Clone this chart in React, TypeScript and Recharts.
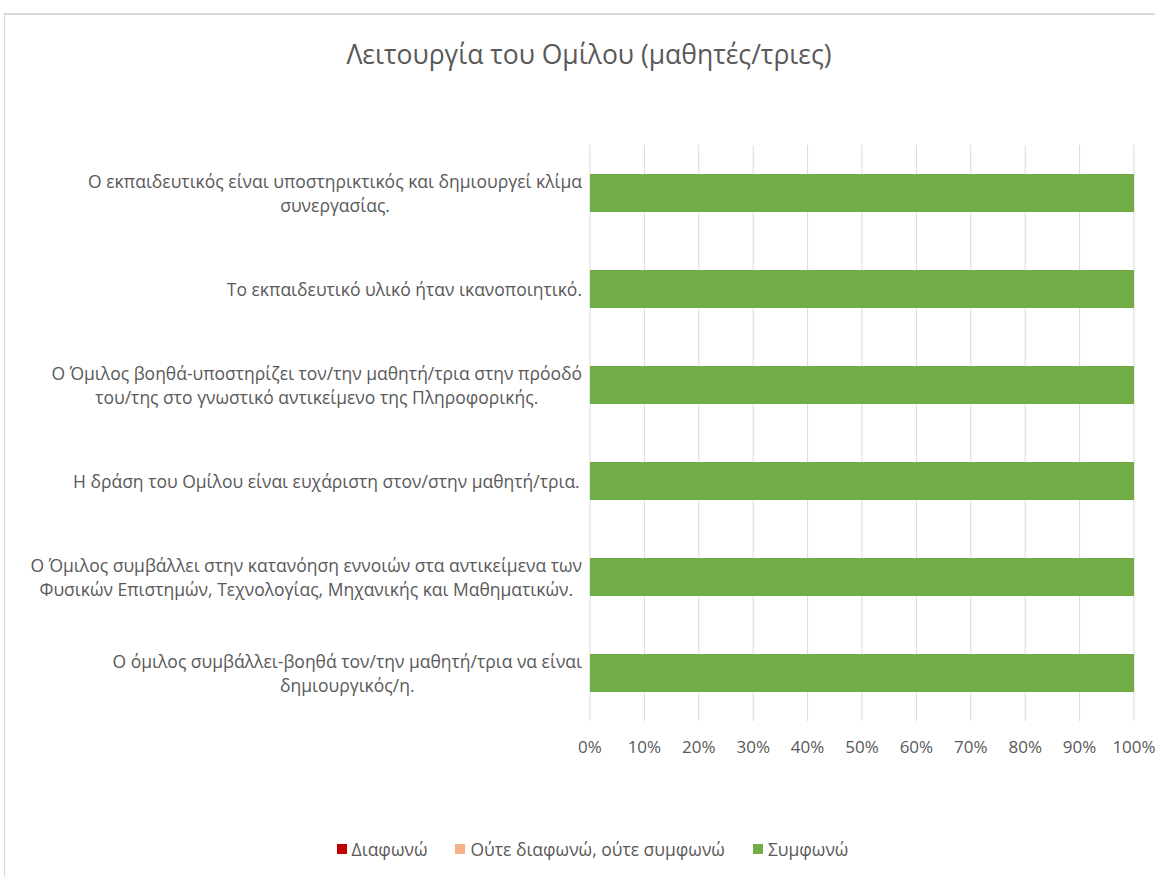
import { BarChart, Bar, XAxis, YAxis, CartesianGrid, Legend } from 'recharts'

const categories = [
  'Ο εκπαιδευτικός είναι υποστηρικτικός και δημιουργεί κλίμα\nσυνεργασίας.',
  'Το εκπαιδευτικό υλικό ήταν ικανοποιητικό.',
  'Ο Όμιλος βοηθά-υποστηρίζει τον/την μαθητή/τρια στην πρόοδό\nτου/της στο γνωστικό αντικείμενο της Πληροφορικής.',
  'Η δράση του  Ομίλου είναι ευχάριστη στον/στην μαθητή/τρια.',
  'Ο Όμιλος συμβάλλει στην κατανόηση εννοιών στα αντικείμενα των\nΦυσικών Επιστημών, Τεχνολογίας, Μηχανικής και Μαθηματικών.',
  'Ο όμιλος συμβάλλει-βοηθά τον/την μαθητή/τρια να είναι\nδημιουργικός/η.',
]
const disagree = [0, 0, 0, 0, 0, 0]
const neutral = [0, 0, 0, 0, 0, 0]
const agree = [100, 100, 100, 100, 100, 100]
const xTicks = [0, 10, 20, 30, 40, 50, 60, 70, 80, 90, 100]

const series = [
  { key: 'disagree', name: 'Διαφωνώ', color: '#C00000' },
  { key: 'neutral', name: 'Ούτε διαφωνώ, ούτε συμφωνώ', color: '#F4B183' },
  { key: 'agree', name: 'Συμφωνώ', color: '#70AD47' },
]

const FONT = '"Open Sans", "Noto Sans", sans-serif'
const TEXT = '#595959'
const LABEL_SIZE = 17.5

const chartData = categories.map((label, i) => ({
  label,
  disagree: disagree[i],
  neutral: neutral[i],
  agree: agree[i],
}))

let measureCtx: CanvasRenderingContext2D | null = null
function textWidth(s: string, size: number) {
  if (!measureCtx) measureCtx = document.createElement('canvas').getContext('2d')
  if (!measureCtx) return s.length * size * 0.5
  measureCtx.font = `${size}px ${FONT}`
  return measureCtx.measureText(s).width
}

// multi-line labels: lines centred on each other, block right-aligned
function CategoryTick({ x, y, payload }: any) {
  const lines = String(payload.value).split('\n')
  const lineH = 24
  const block = Math.max(...lines.map(l => textWidth(l, LABEL_SIZE)))
  const y0 = y - ((lines.length - 1) * lineH) / 2
  return (
    <g>
      {lines.map((l, i) => (
        <text
          key={i}
          x={x - block / 2}
          y={y0 + i * lineH}
          textAnchor="middle"
          dominantBaseline="central"
          fontSize={LABEL_SIZE}
          fontFamily={FONT}
          fill={TEXT}
        >
          {l}
        </text>
      ))}
    </g>
  )
}

function LegendContent() {
  return (
    <div style={{ display: 'flex', justifyContent: 'center', gap: 28, fontFamily: FONT, fontSize: LABEL_SIZE, color: TEXT }}>
      {series.map(s => (
        <div key={s.key} style={{ display: 'flex', alignItems: 'center', gap: 5 }}>
          <span style={{ width: 10, height: 10, background: s.color, display: 'inline-block' }} />
          <span>{s.name}</span>
        </div>
      ))}
    </div>
  )
}

export default function App() {
  return (
    <div style={{ position: 'relative', width: 1155, height: 877, overflow: 'hidden', background: '#fff' }}>
      <style>{'body{margin:0;overflow:hidden;background:#fff}'}</style>
      <div
        style={{
          position: 'absolute',
          left: 4,
          top: 13,
          width: 1200,
          height: 900,
          borderLeft: '1px solid #d9d9d9',
          borderTop: '2px solid #d9d9d9',
        }}
      />
      <div
        style={{
          position: 'absolute',
          top: 36,
          left: 0,
          width: 1178,
          textAlign: 'center',
          fontFamily: FONT,
          fontSize: 26.5,
          color: TEXT,
        }}
      >
        Λειτουργία του Ομίλου (μαθητές/τριες)
      </div>
      <div style={{ position: 'absolute', left: 0, top: 0 }}>
        <BarChart
          width={1155}
          height={877}
          data={chartData}
          layout="vertical"
          margin={{ top: 145, right: 21, left: 0, bottom: 86 }}
        >
          <CartesianGrid horizontal={false} vertical stroke="#d9d9d9" />
          <XAxis
            type="number"
            domain={[0, 100]}
            ticks={xTicks}
            tickFormatter={v => `${v}%`}
            axisLine={false}
            tickLine={false}
            tickMargin={14}
            height={40}
            tick={{ fontSize: 17, fill: TEXT, fontFamily: FONT }}
          />
          <YAxis
            type="category"
            dataKey="label"
            width={590}
            axisLine={false}
            tickLine={false}
            tick={<CategoryTick />}
            interval={0}
          />
          <Legend
            content={<LegendContent />}
            wrapperStyle={{ position: 'absolute', left: 0, top: 837, width: 1185, height: 30 }}
          />
          {series.map(s => (
            <Bar
              key={s.key}
              dataKey={s.key}
              name={s.name}
              stackId="a"
              fill={s.color}
              barSize={38}
              isAnimationActive={false}
            />
          ))}
        </BarChart>
      </div>
    </div>
  )
}
